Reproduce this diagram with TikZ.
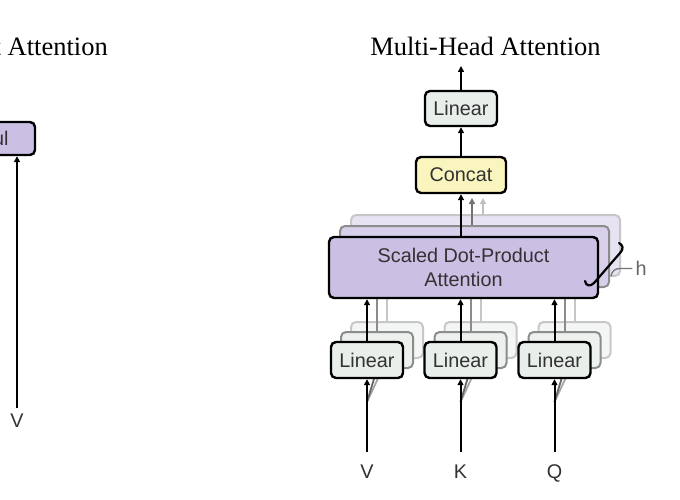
\documentclass[tikz,border=0pt]{standalone}
\usepackage{fontspec}
\setmainfont{Liberation Serif}
\newfontfamily\sfx{Liberation Sans}
\usetikzlibrary{arrows.meta}
\definecolor{purp}{RGB}{203,192,228}
\definecolor{linfill}{RGB}{232,238,234}
\definecolor{catfill}{RGB}{250,245,190}
\definecolor{txt}{RGB}{50,50,50}
\begin{document}
\begin{tikzpicture}[x=1pt,y=-1pt,
  box/.style={draw=black, line width=2.4pt, rounded corners=5pt, inner sep=0pt, align=center,
    font=\sfx\fontsize{19.8}{24}\selectfont, text=txt},
  linbox/.style={box, fill=linfill, minimum width=72pt, minimum height=36pt},
  linb/.style={linbox, draw=black!45, line width=2pt, fill=linfill!80},
  linc/.style={linbox, draw=black!22, line width=2pt, fill=linfill!50},
  sdpabox/.style={box, fill=purp, minimum width=269pt, minimum height=61pt},
  sdpab/.style={sdpabox, draw=black!45, line width=2pt, fill=purp!75},
  sdpac/.style={sdpabox, draw=black!22, line width=2pt, fill=purp!45},
  catbox/.style={box, fill=catfill, minimum width=90pt, minimum height=36pt},
  lab/.style={font=\sfx\fontsize{19.8}{24}\selectfont, text=txt, inner sep=0pt, text height=14pt, text depth=0pt},
  ttl/.style={font=\fontsize{26.5}{30}\selectfont, inner sep=0pt},
  arr/.style={line width=2pt, -{Triangle[length=6pt,width=6pt]}},
  ln/.style={line width=2pt},
]
\useasboundingbox (0,0) rectangle (680,500);
\clip (0,0) rectangle (680,500);

% titles
\node[ttl, anchor=base east] (lt) at (108,56) {Scaled Dot-Product Attention};
\node[ttl, anchor=base] (rt) at (485.5,56) {Multi-Head Attention};

% left partial figure
\node[box, fill=purp, minimum width=118pt, minimum height=33pt] (mm) at (-24,138.5) {MatMul};
\node[lab] (vl) at (17,420.5) {V};
\draw[arr, shorten <=5.5pt] (vl.north) -- (vl.north |- mm.south);

% ---- stacked copies (back) ----
\node[sdpac] (sdpc) at (485.5,245.5) {};
\node[sdpab] (sdpb) at (474.5,256.5) {};

\foreach \i/\x in {1/367,2/460.5,3/554.5}{
  \node[linc] (lin\i c) at (\x+20,340) {};
  \node[linb] (lin\i b) at (\x+10,350) {};
}

% gray connectors of copies
\foreach \i in {1,2,3}{
  \draw[ln, black!22] (lin\i c.north) -- (lin\i c.north |- sdpc.south);
  \draw[ln, black!45] (lin\i b.north) -- (lin\i b.north |- sdpc.south);
}
\draw[arr, black!25] ([xshift=-2.5pt]sdpc.north) -- ++(0,-16);
\draw[arr, black!55] ([xshift=-2.5pt]sdpb.north) -- ++(0,-27);

% ---- main boxes ----
\node[sdpabox] (sdpa) at (463.5,267.5) {Scaled Dot-Product\\Attention};
\node[catbox] (concat) at (461,175) {Concat};
\node[linbox, minimum height=35pt] (lintop) at (461,108.5) {Linear};
\coordinate (out) at (461,66);

\foreach \i/\x/\t in {1/367,2/460.5,3/554.5}{}
\foreach \i/\x/\t in {1/367/V,2/460.5/K,3/554.5/Q}{
  \coordinate (sh\i) at (\x,402);
  \draw[line width=1.8pt, black!35] (sh\i) -- (lin\i c.south);
  \draw[line width=1.8pt, black!60] (sh\i) -- (lin\i b.south);
  \node[linbox] (lin\i) at (\x,360) {Linear};
  \node[lab] (in\i) at (\x,471.5) {\t};
  \draw[arr, shorten <=12pt] (in\i.north) -- (lin\i.south);
  \draw[arr] (lin\i.north) -- (lin\i.north |- sdpa.south);
}

% main arrows
\draw[arr] (sdpa.north -| concat.south) -- (concat.south);
\draw[arr] (concat.north) -- (lintop.south);
\draw[arr] (lintop.north) -- (out);

% h bracket
\draw[line width=2.2pt, line cap=round]
  (585,281) .. controls (586,286) and (590,287) .. (594,283)
  -- (620,253) .. controls (624,249) and (623,245) .. (619,243);
\node[lab, text=black!60] (hl) at (641,268.5) {h};
\coordinate (hc) at (611,276);
\draw[line width=1.3pt, black!55] ([xshift=-3pt]hl.west) -- (620,268.5) .. controls (615,268.5) and (612,271) .. (hc);
\end{tikzpicture}
\end{document}
